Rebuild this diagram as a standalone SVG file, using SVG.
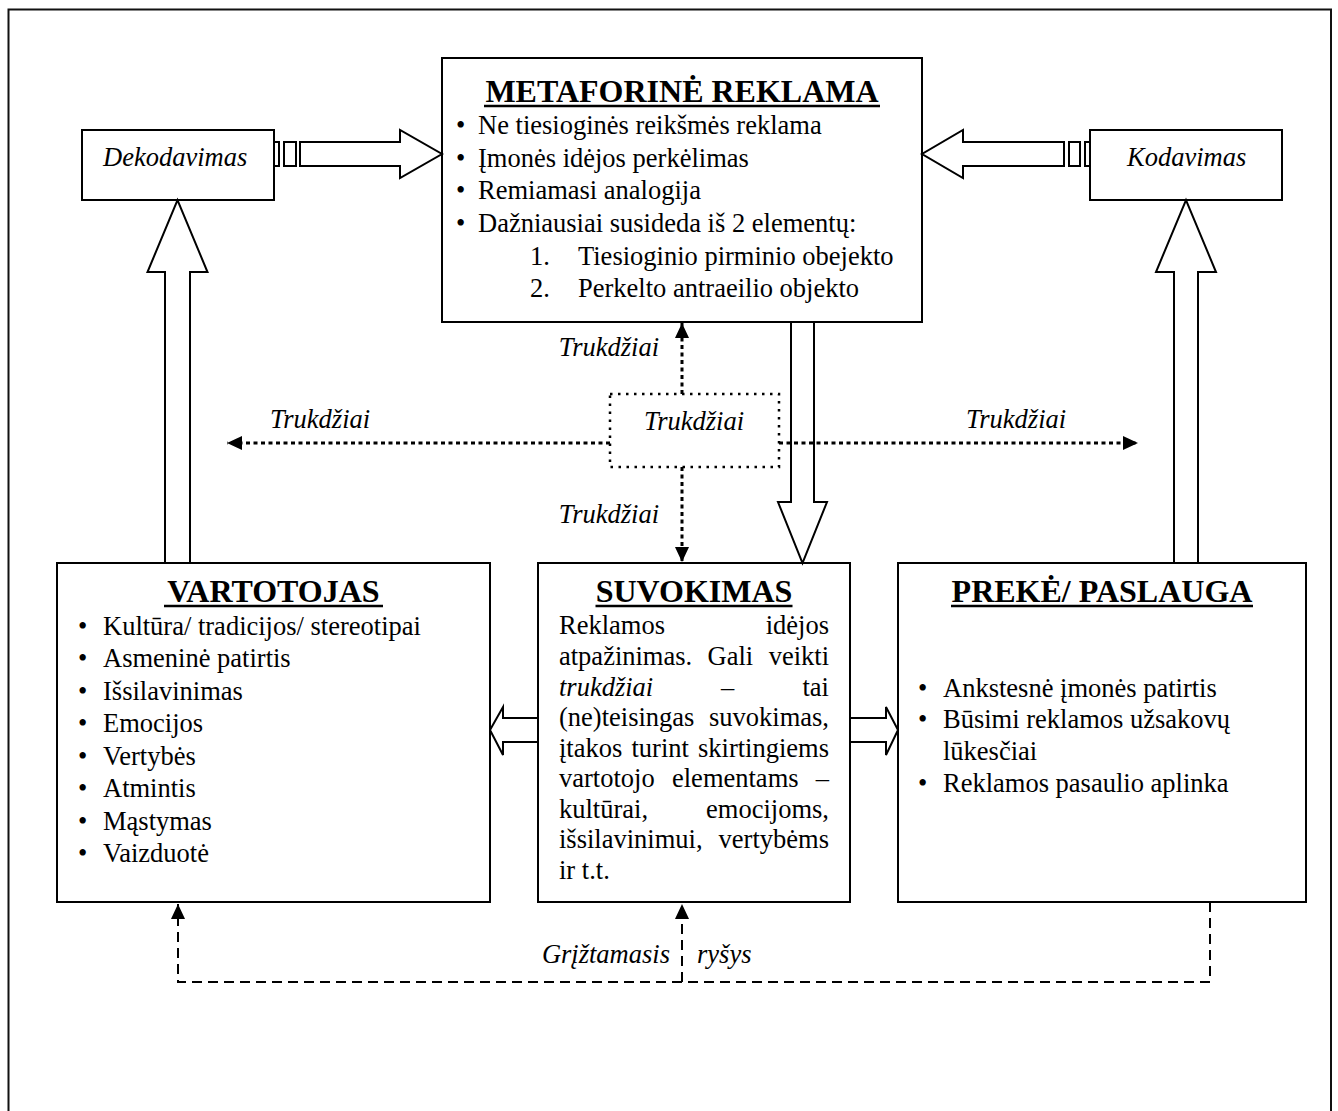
<svg xmlns="http://www.w3.org/2000/svg" width="1338" height="1111" viewBox="0 0 1338 1111">
<style>
.box{fill:#fff;stroke:#000;stroke-width:2}
.blk{fill:#fff;stroke:#000;stroke-width:2;stroke-linejoin:miter}
.t{font-family:"Liberation Serif","Times New Roman",serif;font-size:26.5px;fill:#000}
.i{font-style:italic}
.h{font-weight:bold;font-size:32px}
.ul{stroke:#000;stroke-width:2.5}
.dot{fill:none;stroke:#000;stroke-width:3;stroke-dasharray:4 3.5}
.dotbox{fill:none;stroke:#000;stroke-width:2.5;stroke-dasharray:2.5 5.5}
.dash{fill:none;stroke:#000;stroke-width:2;stroke-dasharray:10 6}
</style>
<defs>
<marker id="ah" markerUnits="userSpaceOnUse" markerWidth="16" markerHeight="16" refX="15" refY="7" orient="auto">
<path d="M0,0 L15,7 L0,14 z" fill="#000"/>
</marker>
</defs>
<rect width="1338" height="1111" fill="#fff"/>
<path d="M8.5,1111 V9.5 H1331 V1111" fill="none" stroke="#111" stroke-width="2"/>

<g id="metaforine">
<rect class="box" x="442" y="58" width="480" height="264"/>
<text class="t h" x="682" y="102" text-anchor="middle">METAFORINĖ REKLAMA</text>
<line class="ul" x1="484" y1="106" x2="880" y2="106"/>
<text class="t" x="456" y="134">•</text><text class="t" x="478" y="134">Ne tiesioginės reikšmės reklama</text>
<text class="t" x="456" y="167">•</text><text class="t" x="478" y="167">Įmonės idėjos perkėlimas</text>
<text class="t" x="456" y="199">•</text><text class="t" x="478" y="199">Remiamasi analogija</text>
<text class="t" x="456" y="232">•</text><text class="t" x="478" y="232">Dažniausiai susideda iš 2 elementų:</text>
<text class="t" x="530" y="265">1.</text><text class="t" x="578" y="265">Tiesioginio pirminio obejekto</text>
<text class="t" x="530" y="297">2.</text><text class="t" x="578" y="297">Perkelto antraeilio objekto</text>
</g>

<g id="dekodavimas">
<rect class="box" x="82" y="130" width="192" height="70"/>
<text class="t i" x="103" y="166">Dekodavimas</text>
</g>

<g id="kodavimas">
<rect class="box" x="1090" y="130" width="192" height="70"/>
<text class="t i" x="1127" y="166">Kodavimas</text>
</g>

<g id="trukdziai">
<rect class="dotbox" x="610" y="394" width="169" height="73"/>
<text class="t i" x="694" y="430" text-anchor="middle">Trukdžiai</text>
</g>

<g id="vartotojas">
<rect class="box" x="57" y="563" width="433" height="339"/>
<text class="t h" x="273.5" y="602" text-anchor="middle">VARTOTOJAS</text>
<line class="ul" x1="164" y1="606" x2="383" y2="606"/>
<text class="t" x="78" y="635">•</text><text class="t" x="103" y="635">Kultūra/ tradicijos/ stereotipai</text>
<text class="t" x="78" y="667">•</text><text class="t" x="103" y="667">Asmeninė patirtis</text>
<text class="t" x="78" y="700">•</text><text class="t" x="103" y="700">Išsilavinimas</text>
<text class="t" x="78" y="732">•</text><text class="t" x="103" y="732">Emocijos</text>
<text class="t" x="78" y="765">•</text><text class="t" x="103" y="765">Vertybės</text>
<text class="t" x="78" y="797">•</text><text class="t" x="103" y="797">Atmintis</text>
<text class="t" x="78" y="830">•</text><text class="t" x="103" y="830">Mąstymas</text>
<text class="t" x="78" y="862">•</text><text class="t" x="103" y="862">Vaizduotė</text>
</g>

<g id="suvokimas">
<rect class="box" x="538" y="563" width="312" height="339"/>
<text class="t h" x="694" y="602" text-anchor="middle">SUVOKIMAS</text>
<line class="ul" x1="595.5" y1="606" x2="792.5" y2="606"/>
<text class="t" y="634"><tspan x="559">Reklamos</tspan><tspan x="829" text-anchor="end">idėjos</tspan></text>
<text class="t" y="665"><tspan x="559">atpažinimas.</tspan><tspan x="707.6">Gali</tspan><tspan x="829" text-anchor="end">veikti</tspan></text>
<text class="t" y="696"><tspan x="559" class="i">trukdžiai</tspan><tspan x="721">–</tspan><tspan x="829" text-anchor="end">tai</tspan></text>
<text class="t" y="726"><tspan x="559">(ne)teisingas</tspan><tspan x="829" text-anchor="end">suvokimas,</tspan></text>
<text class="t" y="757"><tspan x="559">įtakos</tspan><tspan x="631.5">turint</tspan><tspan x="829" text-anchor="end">skirtingiems</tspan></text>
<text class="t" y="787"><tspan x="559">vartotojo</tspan><tspan x="672">elementams</tspan><tspan x="829" text-anchor="end">–</tspan></text>
<text class="t" y="818"><tspan x="559">kultūrai,</tspan><tspan x="829" text-anchor="end">emocijoms,</tspan></text>
<text class="t" y="848"><tspan x="559">išsilavinimui,</tspan><tspan x="829" text-anchor="end">vertybėms</tspan></text>
<text class="t" x="559" y="879">ir t.t.</text>
</g>

<g id="preke">
<rect class="box" x="898" y="563" width="408" height="339"/>
<text class="t h" x="1102" y="602" text-anchor="middle">PREKĖ/ PASLAUGA</text>
<line class="ul" x1="951" y1="606" x2="1253" y2="606"/>
<text class="t" x="918" y="697">•</text><text class="t" x="943" y="697">Ankstesnė įmonės patirtis</text>
<text class="t" x="918" y="728">•</text><text class="t" x="943" y="728">Būsimi reklamos užsakovų</text>
<text class="t" x="943" y="760">lūkesčiai</text>
<text class="t" x="918" y="792">•</text><text class="t" x="943" y="792">Reklamos pasaulio aplinka</text>
</g>

<g id="connectors">
<rect class="blk" x="274" y="142" width="5" height="24"/>
<rect class="blk" x="284" y="142" width="12" height="24"/>
<polygon class="blk" points="300,142 400,142 400,130 442,154 400,178 400,166 300,166"/>
<rect class="blk" x="1085" y="142" width="5" height="24"/>
<rect class="blk" x="1069" y="142" width="11" height="24"/>
<polygon class="blk" points="1064,142 963,142 963,130 922,154 963,178 963,166 1064,166"/>
<polygon class="blk" points="165,563 165,272 147.5,272 177.5,200 207.5,272 190,272 190,563"/>
<polygon class="blk" points="1174,563 1174,272 1156,272 1186,200 1216,272 1198,272 1198,563"/>
<polygon class="blk" points="791,322 814,322 814,502 827,502 802.5,563 778,502 791,502"/>
<polygon class="blk" points="538,718 503,718 503,707 490,730 503,755 503,742 538,742"/>
<polygon class="blk" points="850,718 886,718 886,707 898,730 886,755 886,742 850,742"/>
<line class="dot" x1="682" y1="394" x2="682" y2="323" marker-end="url(#ah)"/>
<line class="dot" x1="682" y1="467" x2="682" y2="562" marker-end="url(#ah)"/>
<line class="dot" x1="610" y1="443" x2="227" y2="443" marker-end="url(#ah)"/>
<line class="dot" x1="779" y1="443" x2="1138" y2="443" marker-end="url(#ah)"/>
<text class="t i" x="659" y="356" text-anchor="end">Trukdžiai</text>
<text class="t i" x="659" y="523" text-anchor="end">Trukdžiai</text>
<text class="t i" x="270" y="428">Trukdžiai</text>
<text class="t i" x="966" y="428">Trukdžiai</text>
<path class="dash" d="M1210,902 V982 H178 V904" marker-end="url(#ah)"/>
<path class="dash" d="M682,982 V904" marker-end="url(#ah)"/>
<text class="t i" x="670" y="963" text-anchor="end">Grįžtamasis</text>
<text class="t i" x="697" y="963">ryšys</text>
</g>
</svg>
